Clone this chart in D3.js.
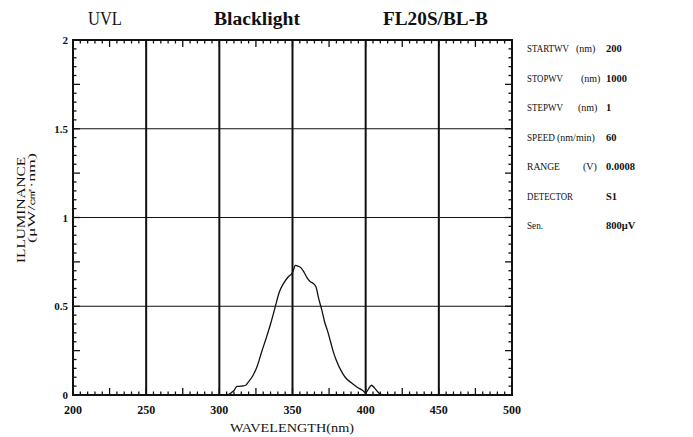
<!DOCTYPE html>
<html>
<head>
<meta charset="utf-8">
<script src="https://cdn.jsdelivr.net/npm/d3@7"></script>
<style>
  body { margin: 0; background: #fff; }
  text { font-family: "Liberation Serif", "DejaVu Serif", serif; fill: #111; }
</style>
</head>
<body>
<script>
// spectrum (nm, uW/cm2/nm)
var wavelength = [300, 305, 308, 310, 312, 315, 318, 320, 323, 326, 329, 332, 335, 338, 341, 344,
                  347, 350, 352, 354, 356, 358, 360, 362, 364, 366, 368, 370, 372, 374, 376, 378,
                  380, 383, 386, 390, 394, 398, 400, 402, 404, 406, 408, 410, 412, 420];
var illuminance = [0, 0, 0.012, 0.025, 0.048, 0.05, 0.055, 0.075, 0.11, 0.165, 0.245, 0.32, 0.40, 0.49, 0.58, 0.63,
                   0.665, 0.69, 0.73, 0.725, 0.715, 0.69, 0.66, 0.64, 0.63, 0.61, 0.54, 0.48, 0.41, 0.36, 0.30, 0.24,
                   0.195, 0.14, 0.10, 0.07, 0.045, 0.025, 0.012, 0.035, 0.055, 0.04, 0.02, 0.005, 0, 0];

var xTicks = [200, 250, 300, 350, 400, 450, 500];
var yTicks = [0, 0.5, 1, 1.5, 2];
var titles = ["UVL", "Blacklight", "FL20S/BL-B"];
var paramNames = ["STARTWV", "STOPWV", "STEPWV", "SPEED", "RANGE", "DETECTOR", "Sen."];
var paramUnits = ["(nm)", "(nm)", "(nm)", "(nm/min)", "(V)", "", ""];
var paramValues = ["200", "1000", "1", "60", "0.0008", "S1", "800\u03bcV"];

var W = 693, H = 437;
var margin = {top: 40, right: 181, bottom: 42, left: 73};
var w = W - margin.left - margin.right,
    h = H - margin.top - margin.bottom;

var svg = d3.select("body").append("svg")
    .attr("width", W)
    .attr("height", H);

var g = svg.append("g")
    .attr("transform", "translate(" + margin.left + "," + margin.top + ")");

var x = d3.scaleLinear().domain([200, 500]).range([0, w]);
var y = d3.scaleLinear().domain([0, 2]).range([h, 0]);

// squeeze a text horizontally to a target width (scan fonts are condensed)
function fitWidth(sel, x0, y0, width) {
    sel.each(function(d, i) {
        var t = d3.select(this),
            tw = typeof width === "function" ? width(d, i) : width,
            ox = typeof x0 === "function" ? x0(d, i) : x0,
            nat = this.getComputedTextLength();
        t.attr("transform", "translate(" + ox + "," + y0 + ") scale(" + (tw / nat) + ",1)");
    });
}

// titles along the top
var titleX = [88, 214, 383], titleW = [34, 86, 105];
svg.selectAll(".title")
    .data(titles)
    .enter().append("text")
    .attr("class", "title")
    .style("font-size", "19px")
    .style("font-weight", (d, i) => i ? "bold" : "normal")
    .text(d => d)
    .call(fitWidth, (d, i) => titleX[i], 25, (d, i) => titleW[i]);

// grid lines
g.selectAll(".hgrid")
    .data([0.5, 1, 1.5])
    .enter().append("line")
    .attr("x1", 0).attr("x2", w)
    .attr("y1", d => y(d)).attr("y2", d => y(d))
    .attr("stroke", "#111").attr("stroke-width", 1.2);

g.selectAll(".vgrid")
    .data([250, 300, 350, 400, 450])
    .enter().append("line")
    .attr("x1", d => x(d)).attr("x2", d => x(d))
    .attr("y1", 0).attr("y2", h)
    .attr("stroke", "#111").attr("stroke-width", 2);

// minor ticks, every 5 nm and every 0.05
var xMinor = d3.range(205, 500, 5);
var yMinor = d3.range(0.05, 2, 0.05);
function tickLen(v, step) { return Math.abs(v / step - Math.round(v / step)) < 1e-6 ? 7 : 3.5; }

g.append("g").selectAll("line")
    .data(xMinor)
    .enter().append("line")
    .attr("x1", d => x(d)).attr("x2", d => x(d))
    .attr("y1", h).attr("y2", d => h - tickLen(d, 25))
    .attr("stroke", "#111").attr("stroke-width", 1.3);

g.append("g").selectAll("line")
    .data(xMinor)
    .enter().append("line")
    .attr("x1", d => x(d)).attr("x2", d => x(d))
    .attr("y1", 0).attr("y2", d => tickLen(d, 25))
    .attr("stroke", "#111").attr("stroke-width", 1.3);

g.append("g").selectAll("line")
    .data(yMinor)
    .enter().append("line")
    .attr("x1", 0).attr("x2", d => tickLen(d, 0.25))
    .attr("y1", d => y(d)).attr("y2", d => y(d))
    .attr("stroke", "#111").attr("stroke-width", 1.3);

g.append("g").selectAll("line")
    .data(yMinor)
    .enter().append("line")
    .attr("x1", w).attr("x2", d => w - tickLen(d, 0.25))
    .attr("y1", d => y(d)).attr("y2", d => y(d))
    .attr("stroke", "#111").attr("stroke-width", 1.3);

// frame
g.append("rect")
    .attr("width", w).attr("height", h)
    .attr("fill", "none")
    .attr("stroke", "#111").attr("stroke-width", 2);

// spectrum curve
var line = d3.line()
    .x((d, i) => x(wavelength[i]))
    .y(d => y(d))
    .curve(d3.curveMonotoneX);

g.append("path")
    .datum(illuminance)
    .attr("d", line)
    .attr("fill", "none")
    .attr("stroke", "#111")
    .attr("stroke-width", 1.3);

// axis labels
g.selectAll(".xlab")
    .data(xTicks)
    .enter().append("text")
    .attr("x", d => x(d))
    .attr("y", h + 19)
    .attr("text-anchor", "middle")
    .style("font-size", "12px")
    .style("font-weight", "bold")
    .text(d => d);

g.selectAll(".ylab")
    .data(yTicks)
    .enter().append("text")
    .attr("x", -5)
    .attr("y", d => y(d) + 4)
    .attr("text-anchor", "end")
    .style("font-size", "11px")
    .style("font-weight", "bold")
    .text(d => d);

svg.append("text")
    .attr("x", 292)
    .attr("y", H - 5)
    .attr("text-anchor", "middle")
    .attr("textLength", 124)
    .attr("lengthAdjust", "spacingAndGlyphs")
    .style("font-size", "12px")
    .text("WAVELENGTH(nm)");

svg.append("text")
    .attr("transform", "translate(25,210) rotate(-90)")
    .attr("text-anchor", "middle")
    .attr("textLength", 106)
    .attr("lengthAdjust", "spacingAndGlyphs")
    .style("font-size", "12px")
    .text("ILLUMINANCE");

svg.append("text")
    .attr("transform", "translate(35,198) rotate(-90)")
    .attr("text-anchor", "middle")
    .attr("textLength", 90)
    .attr("lengthAdjust", "spacingAndGlyphs")
    .style("font-size", "10px")
    .text("(\u03bcW/\u33a0\u00b7nm)");

// instrument settings on the right
var nameW = [42, 36, 36, 28, 33, 46, 16];
var unitX = [576, 581, 578, 557, 583, 0, 0];
var rows = svg.append("g").selectAll("g")
    .data(paramNames)
    .enter().append("g")
    .attr("transform", (d, i) => "translate(0," + (52 + i * 29.5) + ")")
    .style("font-size", "11px");

rows.append("text")
    .text(d => d)
    .call(fitWidth, 527, 0, (d, i) => nameW[i]);

rows.append("text")
    .attr("x", (d, i) => unitX[i])
    .style("font-size", "10px")
    .text((d, i) => paramUnits[i]);

rows.append("text")
    .attr("x", 606)
    .style("font-weight", "bold")
    .style("font-size", "10.5px")
    .text((d, i) => paramValues[i]);
</script>
</body>
</html>
